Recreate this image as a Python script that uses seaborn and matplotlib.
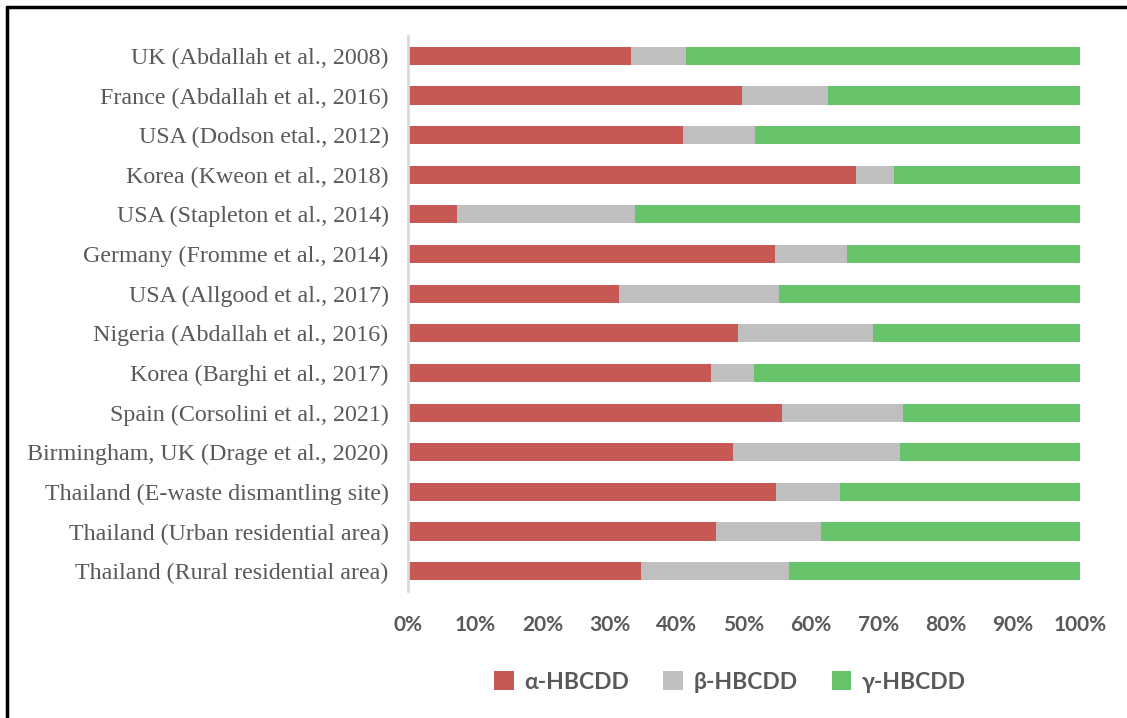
import matplotlib
matplotlib.use("Agg")
import matplotlib.pyplot as plt
import seaborn as sns
import pandas as pd
from matplotlib.lines import Line2D
from matplotlib.patches import Patch

categories = [
    "UK (Abdallah et al., 2008)",
    "France (Abdallah et al., 2016)",
    "USA (Dodson etal., 2012)",
    "Korea (Kweon et al., 2018)",
    "USA (Stapleton et al., 2014)",
    "Germany (Fromme et al., 2014)",
    "USA (Allgood et al., 2017)",
    "Nigeria (Abdallah et al., 2016)",
    "Korea (Barghi et al., 2017)",
    "Spain (Corsolini et al., 2021)",
    "Birmingham, UK (Drage et al., 2020)",
    "Thailand (E-waste dismantling site)",
    "Thailand (Urban residential area)",
    "Thailand (Rural residential area)",
]
alpha = [33.2, 49.7, 40.9, 66.7, 7.3, 54.6, 31.4, 49.1, 45.1, 55.7, 48.4, 54.8, 45.8, 34.7]
beta = [8.1, 12.8, 10.7, 5.6, 26.5, 10.7, 23.8, 20.1, 6.4, 18.0, 24.8, 9.5, 15.7, 22.0]
gamma = [100 - a - b for a, b in zip(alpha, beta)]
series_names = ["α-HBCDD", "β-HBCDD", "γ-HBCDD"]
xtick_vals = [0, 10, 20, 30, 40, 50, 60, 70, 80, 90, 100]

colors = ["#C85853", "#BFBFBF", "#68C46B"]

df = pd.DataFrame({"cat": categories, "a": alpha, "b": beta, "g": gamma})
df["ab"] = df["a"] + df["b"]
df["abg"] = df["ab"] + df["g"]

sns.set_theme(style="white")
fig = plt.figure(figsize=(11.27, 7.18), dpi=100)
ax = fig.add_axes([408 / 1127, 1 - 591 / 718, (1080 - 408) / 1127, (591 - 36) / 718])

w = 0.457
sns.barplot(data=df, y="cat", x="abg", color=colors[2], orient="h", width=w, ax=ax, saturation=1, linewidth=0)
sns.barplot(data=df, y="cat", x="ab", color=colors[1], orient="h", width=w, ax=ax, saturation=1, linewidth=0)
sns.barplot(data=df, y="cat", x="a", color=colors[0], orient="h", width=w, ax=ax, saturation=1, linewidth=0)

ax.set_xlim(0, 100)
ax.set_ylim(len(categories) - 0.5, -0.5)
ax.set_xlabel("")
ax.set_ylabel("")
ax.set_xticks(xtick_vals)
ax.set_xticklabels([f"{v}%" for v in xtick_vals], fontfamily="Lato", fontweight="bold",
                   fontsize=15, color="#595959")
ax.tick_params(axis="x", length=0, pad=17)
ax.tick_params(axis="y", length=0, pad=14)
for lab in ax.get_yticklabels():
    lab.set_fontfamily("Liberation Serif")
    lab.set_fontsize(17.3)
    lab.set_color("#595959")
for s in ["top", "right", "bottom"]:
    ax.spines[s].set_visible(False)
ax.spines["left"].set_color("#D9D9D9")
ax.spines["left"].set_linewidth(2)
ax.grid(False)

handles = [Patch(facecolor=c, edgecolor="none") for c in colors]
leg = fig.legend(handles, series_names, loc="center", bbox_to_anchor=(730 / 1127, 1 - 682 / 718),
                 ncol=3, frameon=False, prop={"family": "Lato", "weight": "bold", "size": 16.5},
                 handlelength=0.85, handleheight=0.85, handletextpad=0.45, columnspacing=1.5)
for t in leg.get_texts():
    t.set_color("#595959")

fig.add_artist(Line2D([7 / 1127, 7 / 1127], [0, 1 - 7 / 718], transform=fig.transFigure, color="black", lw=2.5))
fig.add_artist(Line2D([7 / 1127, 1], [1 - 7 / 718, 1 - 7 / 718], transform=fig.transFigure, color="black", lw=2.5))

fig.savefig("out.png", dpi=100)
